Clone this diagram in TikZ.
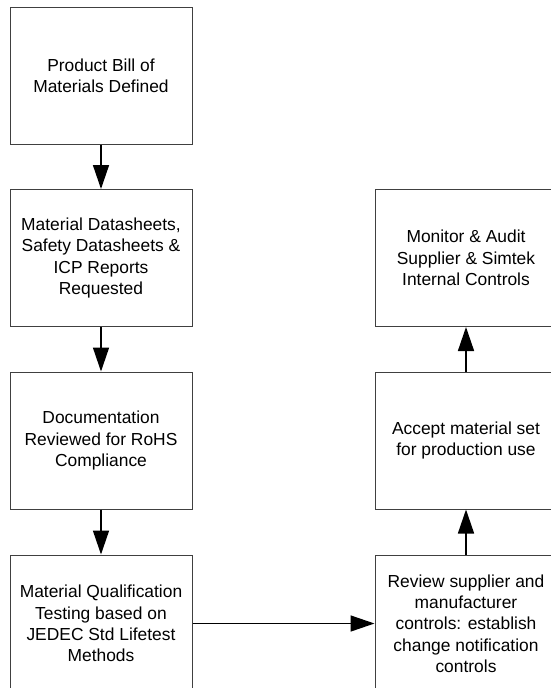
\documentclass[tikz,border=0pt]{standalone}
\usepackage{fontspec}
\setmainfont{Liberation Sans}
\usepackage{tikz}
\usetikzlibrary{arrows.meta,positioning}
\definecolor{edge}{HTML}{404040}
\tikzset{
  stage/.style={draw=edge, line width=1pt, minimum width=182pt, minimum height=137pt,
    align=center, font=\fontsize{17.4}{21.3}\selectfont, inner sep=0pt},
  flow/.style={line width=1.5pt, -{Triangle[length=24pt,width=16pt]}}
}

\begin{document}
\begin{tikzpicture}[x=1pt,y=-1pt]
\useasboundingbox (0,0) rectangle (551,688);
\clip (0,0) rectangle (551,688);
% left column
\node[stage] (bom) at (101,75.5) {Product Bill of\\Materials Defined};
\node[stage] (datasheets) at (101,258) {Material Datasheets,\\Safety Datasheets \&\\ICP Reports\\Requested};
\node[stage] (rohs) at (101,440.5) {Documentation\\Reviewed for RoHS\\Compliance};
\node[stage] (qual) at (101,623.5) {Material Qualification\\Testing based on\\JEDEC Std Lifetest\\Methods};

% right column
\node[stage] (monitor) at (466,258) {Monitor \& Audit\\Supplier \& Simtek\\Internal Controls};
\node[stage] (accept) at (466,440.5) {Accept material set\\for production use};
\node[stage] (review) at (466,623.5) {Review supplier and\\manufacturer\\controls: establish\\change notification\\controls};

\draw[flow] (bom) -- (datasheets);
\draw[flow] (datasheets) -- (rohs);
\draw[flow] (rohs) -- (qual);
\draw[flow] (qual) -- (review);
\draw[flow] (review) -- (accept);
\draw[flow] (accept) -- (monitor);
\end{tikzpicture}
\end{document}
